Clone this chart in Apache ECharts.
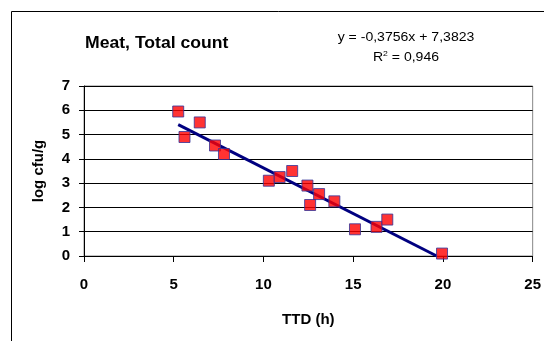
<!DOCTYPE html>
<html><head><meta charset="utf-8">
<script src="https://cdn.jsdelivr.net/npm/echarts@6/dist/echarts.min.js"></script>
<style>html,body{margin:0;padding:0;background:#fff}#c{width:544px;height:341px}</style>
</head><body><div id="c"></div>
<script>
var ttd = [5.25, 5.6, 6.45, 7.3, 7.8, 10.3, 10.9, 11.6, 12.45, 12.6, 13.1, 13.95, 15.1, 16.3, 16.9, 19.95];
var logCfu = [5.95, 4.9, 5.5, 4.55, 4.2, 3.1, 3.25, 3.5, 2.9, 2.1, 2.55, 2.25, 1.1, 1.2, 1.5, 0.1];
var slope = -0.3756, intercept = 7.3823;
var xTicks = [0, 5, 10, 15, 20, 25];
var yTicks = [0, 1, 2, 3, 4, 5, 6, 7];
var points = ttd.map(function (x, i) { return [x, logCfu[i]]; });
var xStart = Math.min.apply(null, ttd);
var xEnd = -intercept / slope;
var trend = [[xStart, slope * xStart + intercept], [xEnd, slope * xEnd + intercept]];
var ff = 'Liberation Sans, Arial, sans-serif';
var chart = echarts.init(document.getElementById('c'));
chart.setOption({
  animation: false,
  backgroundColor: '#fff',
  graphic: [
    {type: 'rect', shape: {x: 11.5, y: 11.5, width: 600, height: 400}, style: {fill: 'none', stroke: '#000', lineWidth: 1}, z: -1},
    {type: 'text', x: 85, y: 44, scaleX: 1.1, style: {text: 'Meat, Total count', font: 'bold 16px ' + ff, fill: '#000', verticalAlign: 'middle'}},
    {type: 'text', x: 406, y: 37, scaleX: 1.08, style: {text: 'y = -0,3756x + 7,3823', font: '13px ' + ff, fill: '#000', align: 'center', verticalAlign: 'middle'}},
    {type: 'text', x: 406, y: 57, scaleX: 1.08, style: {text: '{a|R}{s|2}{a| = 0,946}', align: 'center', verticalAlign: 'middle', rich: {a: {font: '13px ' + ff, fill: '#000'}, s: {font: '8px ' + ff, fill: '#000', verticalAlign: 'top', padding: [0,0,7,0]}}}}
  ],
  grid: {left: 84, top: 86, right: 11, bottom: 85, show: true, borderColor: '#888', borderWidth: 1},
  xAxis: {
    type: 'value', min: 0, max: 25, interval: 5,
    name: 'TTD (h)', nameLocation: 'middle', nameGap: 56,
    nameTextStyle: {fontFamily: ff, fontWeight: 'bold', fontSize: 15, color: '#000'},
    axisLine: {show: true, onZero: false, lineStyle: {color: '#000', width: 1}},
    axisTick: {show: true, length: 6, lineStyle: {color: '#000'}},
    axisLabel: {fontFamily: ff, fontWeight: 'bold', fontSize: 15, color: '#000', margin: 21,
      formatter: function (v) { return xTicks.indexOf(v) >= 0 ? String(v) : ''; }},
    splitLine: {show: false}
  },
  yAxis: {
    type: 'value', min: 0, max: 7, interval: 1,
    name: 'log cfu/g', nameLocation: 'middle', nameGap: 38, nameRotate: 90,
    nameTextStyle: {fontFamily: ff, fontWeight: 'bold', fontSize: 15, color: '#000'},
    axisLine: {show: true, onZero: false, lineStyle: {color: '#000', width: 1}},
    axisTick: {show: true, length: 5, lineStyle: {color: '#000'}},
    axisLabel: {fontFamily: ff, fontWeight: 'bold', fontSize: 15, color: '#000', margin: 14,
      formatter: function (v) { return yTicks.indexOf(v) >= 0 ? String(v) : ''; }},
    splitLine: {show: true, lineStyle: {color: '#000', width: 1}}
  },
  series: [
    {type: 'line', data: trend, showSymbol: false, symbol: 'none', lineStyle: {color: '#000080', width: 3}, z: 2},
    {type: 'scatter', data: points, symbol: 'rect', symbolSize: 11,
      itemStyle: {color: '#ff0000', borderColor: '#333399', borderWidth: 1}, z: 3}
  ]
});
</script></body></html>
